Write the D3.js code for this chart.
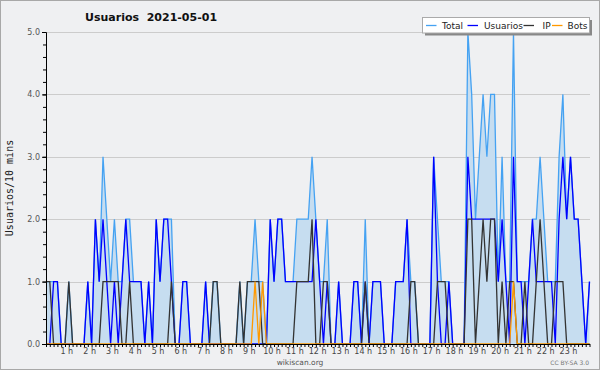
<!DOCTYPE html>
<html><head><meta charset="utf-8">
<script src="https://cdn.jsdelivr.net/npm/d3@7"></script>
<style>body{margin:0;background:#fff} svg{display:block}</style>
</head><body><svg id="c" width="600" height="370"></svg>
<script>
const titleText = "Usuarios  2021-05-01";
const yLabel = "Usuarios/10 mins";
const hourTicks = [1,2,3,4,5,6,7,8,9,10,11,12,13,14,15,16,17,18,19,20,21,22,23];
const hourLabels = ["1 h","2 h","3 h","4 h","5 h","6 h","7 h","8 h","9 h","10 h","11 h","12 h","13 h","14 h","15 h","16 h","17 h","18 h","19 h","20 h","21 h","22 h","23 h"];
const yTicks = [0,1,2,3,4,5];
const seriesNames = ["Total","Usuarios","IP","Bots"];

const usuarios = [0,0,1,1,0,0,0,0,0,0, 0,1,0,2,1,2,1,0,1,0, 1,2,1,1,1,1,0,1,0,2, 1,2,2,1,0,0,1,1,0,0,
 0,0,1,0,0,0,0,0,0,0, 0,0,0,0,0,0,0,0,0,2, 1,2,2,1,1,1,1,1,1,1, 1,2,1,0,1,0,0,1,0,0,
 0,1,1,0,1,0,1,1,1,0, 0,0,1,1,1,2,0,0,0,0, 0,0,3,1,0,0,1,0,0,0, 0,3,2,2,2,2,2,2,2,1,
 2,1,0,3,1,1,0,1,2,1, 1,1,1,1,0,2,3,2,3,2, 2,1,0,1];
const ip = [1,1,0,0,0,0,1,0,0,0, 0,0,0,0,0,1,1,1,1,1, 0,0,1,0,0,0,0,0,0,0, 0,0,0,1,0,0,0,0,0,0,
 0,0,0,0,1,1,0,0,0,0, 0,1,0,1,1,1,1,0,0,0, 0,0,0,0,0,0,1,1,1,1, 2,0,0,1,1,0,0,0,0,0,
 0,0,0,0,1,0,0,0,0,0, 0,0,0,0,0,0,1,1,0,0, 0,0,0,1,1,1,0,0,0,0, 0,2,2,0,1,2,1,2,2,0,
 1,0,1,1,0,0,1,0,0,1, 2,1,0,0,1,1,1,0,0,0, 0,0,0,0];
const bots = [0,0,0,0,0,0,0,0,0,0, 0,0,0,0,0,0,0,0,0,0, 0,0,0,0,0,0,0,0,0,0, 0,0,0,0,0,0,0,0,0,0,
 0,0,0,0,0,0,0,0,0,0, 0,0,0,0,0,1,0,1,0,0, 0,0,0,0,0,0,0,0,0,0, 0,0,0,0,0,0,0,0,0,0,
 0,0,0,0,0,0,0,0,0,0, 0,0,0,0,0,0,0,0,0,0, 0,0,0,0,0,0,0,0,0,0, 0,0,0,0,0,0,0,0,0,0,
 0,0,0,1,0,0,0,0,0,0, 0,0,0,0,0,0,0,0,0,0, 0,0,0,0];
const total = [1,1,1,1,0,0,1,0,0,0, 0,1,0,2,1,3,2,1,2,1, 1,2,2,1,1,1,0,1,0,2, 1,2,2,2,0,0,1,1,0,0,
 0,0,1,0,1,1,0,0,0,0, 0,1,0,1,1,2,1,1,0,2, 1,2,2,1,1,1,2,2,2,2, 3,2,1,1,2,0,0,1,0,0,
 0,1,1,0,2,0,1,1,1,0, 0,0,1,1,1,2,1,1,0,0, 0,0,3,2,1,1,1,0,0,0, 0,5,4,2,3,4,3,4,4,1,
 3,1,1,5,1,1,1,1,2,2, 3,2,1,1,1,3,4,2,3,2, 2,1,0,1];

const colors = {Total:"#45a2f2", Usuarios:"#0000ff", IP:"#333333", Bots:"#ff9900"};
const fillColor = "#c6ddf0";
const bg = "#eff0f2";
const font = "DejaVu Sans, Verdana, sans-serif";

const svg = d3.select("#c");
const W = 600, H = 370;
const x = d3.scaleLinear().domain([0, usuarios.length - 1]).range([46, 589.5]);
const y = d3.scaleLinear().domain([0, 5]).range([344, 32]);

svg.append("rect").attr("x",0.5).attr("y",0.5).attr("width",W-1).attr("height",H-1)
  .attr("fill",bg).attr("stroke","#a8a8a8");

// grid
svg.append("g").selectAll("line").data(yTicks.filter(d=>d>0)).join("line")
  .attr("x1",46).attr("x2",590).attr("y1",d=>Math.round(y(d))+0.5).attr("y2",d=>Math.round(y(d))+0.5)
  .attr("stroke","#cccccc").attr("stroke-width",1);

const idx = d3.range(usuarios.length);
const area = d3.area().x(i=>x(i)).y0(y(0)).y1(i=>y(total[i]));
svg.append("path").attr("d", area(idx)).attr("fill", fillColor);

const mk = arr => d3.line().x(i=>x(i)).y(i=>y(arr[i]))(idx);
const seriesData = {Total: total, Usuarios: usuarios, IP: ip, Bots: bots};
seriesNames.forEach(n=>{
  svg.append("path").attr("d", mk(seriesData[n])).attr("fill","none")
    .attr("stroke", colors[n]).attr("stroke-width",1.3).attr("stroke-linejoin","miter");
});

// y axis
const yMinor = svg.append("g").attr("transform","translate(46,0)")
  .call(d3.axisLeft(y).tickValues(d3.range(0,26).map(k=>k/5)).tickSize(3).tickFormat(""));
yMinor.select(".domain").remove();
const yAx = svg.append("g").attr("transform","translate(46,0)")
  .call(d3.axisLeft(y).tickValues(yTicks).tickSize(4).tickPadding(2).tickFormat(d3.format(".1f")));
yAx.selectAll("text").attr("font-family",font).attr("font-size",8).attr("fill","#555");
svg.selectAll(".domain").attr("stroke","#000");
svg.selectAll(".tick line").attr("stroke","#000");

// x axis
const xMinor = svg.append("g").attr("transform","translate(0,344)")
  .call(d3.axisBottom(x).tickValues(idx).tickSize(3).tickFormat("").tickSizeOuter(0));
xMinor.select(".domain").attr("stroke","#000").attr("d","M46,0.5H590");
xMinor.selectAll(".tick line").attr("stroke","#000");
const xLab = svg.append("g").attr("transform","translate(0,344)")
  .call(d3.axisBottom(x).tickValues(hourTicks.map(h=>h*6)).tickSize(0).tickPadding(4)
    .tickFormat((d,k)=>hourLabels[k]));
xLab.select(".domain").remove();
xLab.selectAll("text").attr("font-family",font).attr("font-size",8).attr("fill","#444").attr("dx",-2.5);

// title
svg.append("text").attr("x",85).attr("y",21).attr("font-family",font).attr("font-weight","bold")
  .attr("font-size",11).attr("fill","#111").style("white-space","pre").text(titleText);

// y label
svg.append("text").attr("transform","translate(13,188) rotate(-90)").attr("text-anchor","middle")
  .attr("font-family","DejaVu Sans Mono, monospace").attr("font-size",10).attr("fill","#222").text(yLabel);

// footer
svg.append("text").attr("x",300).attr("y",365).attr("text-anchor","middle").attr("font-family",font)
  .attr("font-size",7.5).attr("fill","#555").text("wikiscan.org");
svg.append("text").attr("x",589).attr("y",365).attr("text-anchor","end").attr("font-family",font)
  .attr("font-size",6).attr("fill","#777").text("CC BY-SA 3.0");

// legend
const lg = svg.append("g");
lg.append("rect").attr("x",425).attr("y",20).attr("width",167).attr("height",15.5).attr("fill","#888");
lg.append("rect").attr("x",422.5).attr("y",17.5).attr("width",167).attr("height",15.5)
  .attr("fill","#fff").attr("stroke","#aaa");
const lgPos = [{lx:426, tx:442}, {lx:467.5, tx:484}, {lx:523.5, tx:542.5}, {lx:552, tx:567.5}];
seriesNames.forEach((n,k)=>{
  lg.append("line").attr("x1",lgPos[k].lx).attr("x2",lgPos[k].lx+10.5).attr("y1",25.5).attr("y2",25.5)
    .attr("stroke",colors[n]).attr("stroke-width",1.3);
  lg.append("text").attr("x",lgPos[k].tx).attr("y",28.8).attr("font-family",font).attr("font-size",9)
    .attr("fill","#222").text(n);
});
</script></body></html>
